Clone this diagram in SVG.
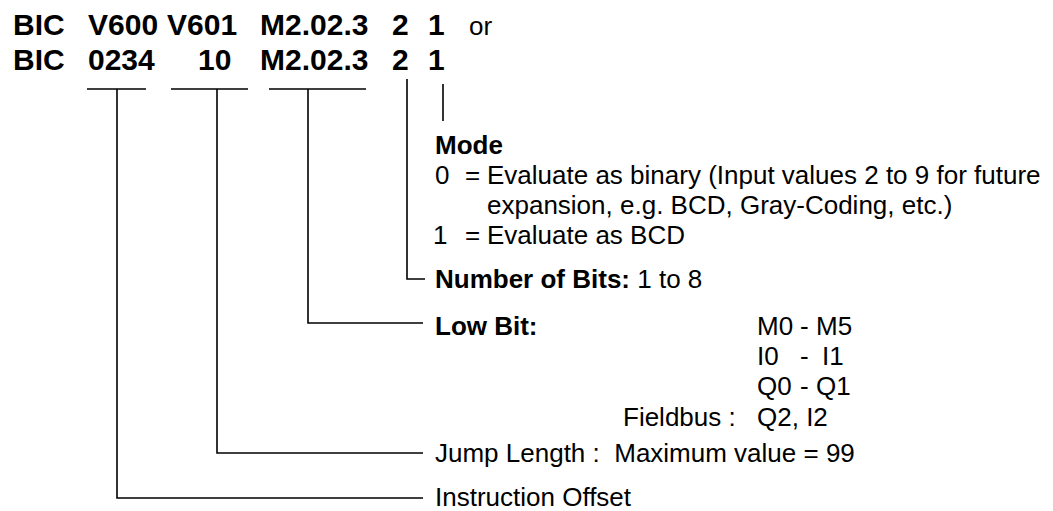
<svg xmlns="http://www.w3.org/2000/svg" width="1053" height="511" viewBox="0 0 1053 511">
<style>
text{font-family:"Liberation Sans",Arial,sans-serif;fill:#000}
.h{font-size:30px;font-weight:bold}
.t{font-size:26px}
.b{font-weight:bold}
.c{stroke:#000;stroke-width:1.6;fill:none}
</style>
<rect width="1053" height="511" fill="#fff"/>
<g id="header">
<text class="h" x="13" y="35">BIC</text>
<text class="h" x="88" y="35">V600</text>
<text class="h" x="167" y="35">V601</text>
<text class="h" x="260" y="35">M2.02.3</text>
<text class="h" x="392" y="35">2</text>
<text class="h" x="428" y="35">1</text>
<text class="t" x="469" y="35">or</text>
<text class="h" x="13" y="70">BIC</text>
<text class="h" x="88" y="70">0234</text>
<text class="h" x="198" y="70">10</text>
<text class="h" x="260" y="70">M2.02.3</text>
<text class="h" x="392" y="70">2</text>
<text class="h" x="428" y="70">1</text>
</g>
<g id="connectors" class="c">
<path d="M443 84V121"/>
<path d="M407 79V279H425"/>
<path d="M269 89H366M308 89V323H423"/>
<path d="M171 89H248M217 89V453H423"/>
<path d="M87 89H146M117 89V498H423"/>
</g>
<g id="mode" class="t">
<text class="b" x="435" y="154">Mode</text>
<text x="435" y="184">0</text><text x="465" y="184">=</text><text x="487" y="184">Evaluate as binary (Input values 2 to 9 for future</text>
<text x="487" y="214">expansion, e.g. BCD, Gray-Coding, etc.)</text>
<text x="433" y="244">1</text><text x="465" y="244">=</text><text x="487" y="244">Evaluate as BCD</text>
</g>
<g id="bits" class="t">
<text x="435" y="288"><tspan class="b">Number of Bits:</tspan> 1 to 8</text>
</g>
<g id="lowbit" class="t">
<text class="b" x="435" y="335">Low Bit:</text>
<text x="757" y="335">M0</text><text x="800" y="335">-</text><text x="816" y="335">M5</text>
<text x="757" y="365">I0</text><text x="800" y="365">-</text><text x="822" y="365">I1</text>
<text x="757" y="395">Q0</text><text x="800" y="395">-</text><text x="816" y="395">Q1</text>
<text x="623" y="426">Fieldbus :</text>
<text x="757" y="426">Q2, I2</text>
</g>
<g id="jump" class="t">
<text x="435" y="462" xml:space="preserve">Jump Length :  Maximum value = 99</text>
</g>
<g id="offset" class="t">
<text x="435" y="506">Instruction Offset</text>
</g>
</svg>
